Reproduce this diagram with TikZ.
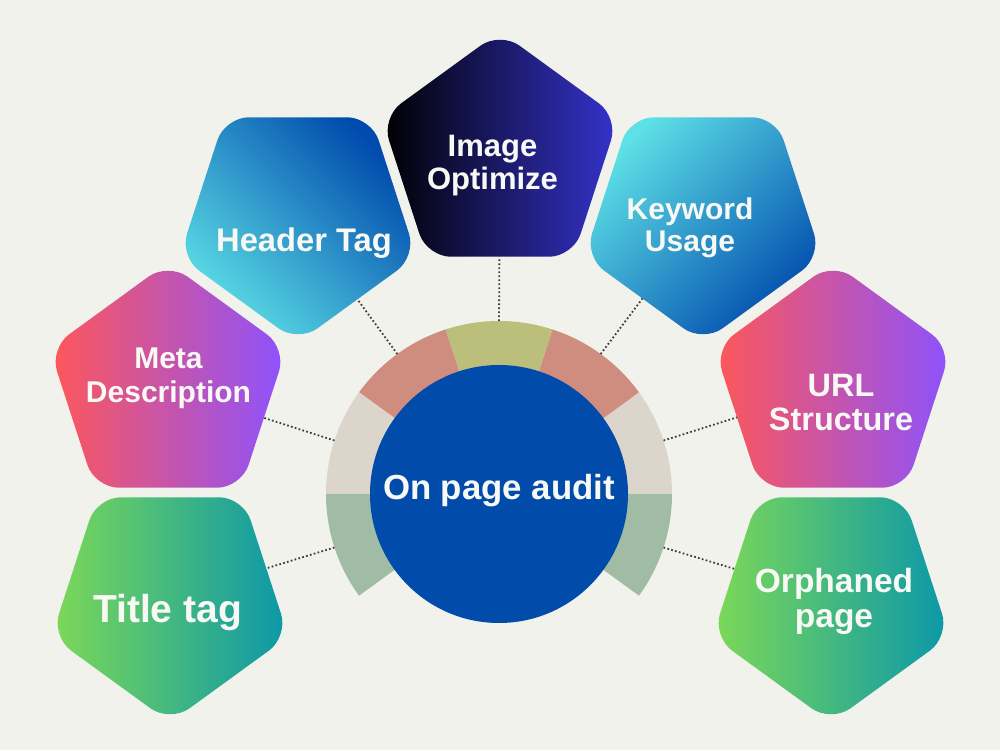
\documentclass[tikz,border=0pt]{standalone}
\usepackage{fontspec}
\setmainfont{Liberation Sans}
\usetikzlibrary{shapes.geometric,calc}
\definecolor{bg}{HTML}{F2F2EC}
\definecolor{hub}{HTML}{014BAB}
\definecolor{ringgreen}{HTML}{A0BCA5}
\definecolor{ringbeige}{HTML}{DCD5CB}
\definecolor{ringsalmon}{HTML}{CF8D80}
\definecolor{ringolive}{HTML}{BCBF7B}
\definecolor{dotc}{HTML}{3C3C3C}
\definecolor{gA}{HTML}{7ED957}
\definecolor{gB}{HTML}{0A97AA}
\definecolor{pA}{HTML}{FF5757}
\definecolor{pB}{HTML}{8C52FF}
\definecolor{cA}{HTML}{5DE0E6}
\definecolor{cB}{HTML}{004AAD}
\definecolor{kA}{HTML}{000000}
\definecolor{kB}{HTML}{3533CD}
\definecolor{txt}{HTML}{F8F8F4}
\begin{document}
\begin{tikzpicture}[x=1pt,y=1pt,
  pent/.style={regular polygon, regular polygon sides=5, minimum size=249pt,
    inner sep=0pt, outer sep=0pt, rounded corners=24pt},
  pdown/.style={shape border rotate=180},
  conn/.style={draw=dotc, line width=1.8pt, dash pattern=on 1.7pt off 2.3pt},
  lbl/.style={text=txt, align=center, inner sep=0pt},
]
\fill[bg] (0,0) rectangle (1000,750);
\useasboundingbox (0,0) rectangle (1000,750);

\coordinate (C) at (499,256);

% ring segments
\foreach \a/\b/\c in {-36/0/ringgreen, 0/36/ringbeige, 36/72/ringsalmon,
  72/108/ringolive, 108/144/ringsalmon, 144/180/ringbeige, 180/216/ringgreen}{
  \fill[\c] ($(C)+(\a:173)$) arc[start angle=\a, end angle=\b, radius=173]
    -- ($(C)+(\b:120)$) arc[start angle=\b, end angle=\a, radius=120] -- cycle;
}

% hub
\node[circle, fill=hub, minimum size=258pt, inner sep=0pt] (hubc) at (C) {};
\node[lbl, anchor=base, font=\bfseries\fontsize{34.8}{36}\selectfont] (hubt) at (499,251) {On page audit};

% pentagons
\node[pent, pdown, left color=gA, right color=gB] (p1) at (170,152) {};
\node[pent, left color=pA, right color=pB] (p2) at (168,363) {};
\node[pent, pdown, top color=cB, bottom color=cA, shading angle=-45] (p3) at (298,532) {};
\node[pent, left color=kA, right color=kB] (p4) at (500,594) {};
\node[pent, pdown, top color=cA, bottom color=cB, shading angle=45] (p5) at (703,532) {};
\node[pent, left color=pA, right color=pB] (p6) at (833,363) {};
\node[pent, pdown, left color=gA, right color=gB] (p7) at (831,152) {};

% labels
\node[lbl, anchor=base, font=\bfseries\fontsize{39}{41}\selectfont] (t1) at (167.5,128) {Title tag};
\node[lbl, font=\bfseries\fontsize{30}{34}\selectfont] (t2) at (168.5,371.6) {Meta\\Description};
\node[lbl, anchor=base, font=\bfseries\fontsize{32.7}{34}\selectfont] (t3) at (304,498) {Header Tag};
\node[lbl, font=\bfseries\fontsize{31}{33}\selectfont] (t4) at (492.5,584.4) {Image\\Optimize};
\node[lbl, font=\bfseries\fontsize{30}{32}\selectfont] (t5) at (690,522.5) {Keyword\\Usage};
\node[lbl, font=\bfseries\fontsize{32.4}{34}\selectfont] (t6) at (841,347.4) {URL\\Structure};
\node[lbl, font=\bfseries\fontsize{33.5}{35}\selectfont] (t7) at (834,148.2) {Orphaned\\page};

% connectors
\foreach \n/\ang in {1/198, 2/162, 3/126, 4/90, 5/54, 6/18, 7/-18}{
  \coordinate (r\n) at ($(C)+(\ang:173)$);
  \draw[conn] (r\n) -- (p\n);
}
\end{tikzpicture}
\end{document}
